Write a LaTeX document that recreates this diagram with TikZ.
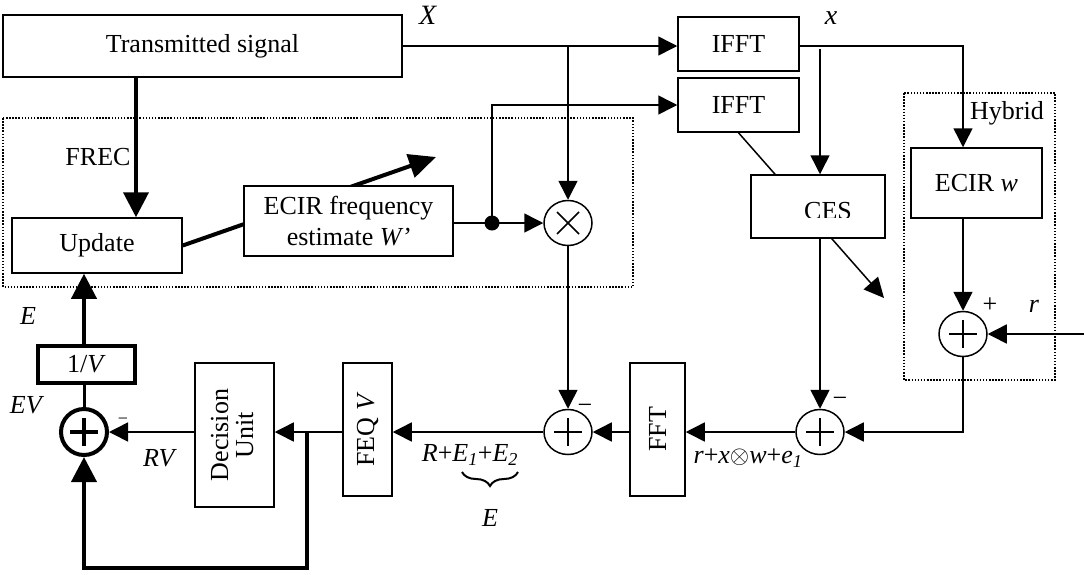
\documentclass[tikz,border=0pt]{standalone}
\usepackage{fontspec}
\setmainfont{Liberation Serif}
\usepackage{graphicx}
\usetikzlibrary{arrows.meta,shapes.geometric,backgrounds,decorations.pathreplacing}
\newcommand{\subit}[1]{\textsubscript{\textit{#1}}}
\begin{document}
\begin{tikzpicture}[x=1pt,y=-1pt,
  every node/.style={font=\fontsize{26}{31}\selectfont},
  box/.style={draw, line width=1.5pt, fill=white, inner sep=0pt, align=center},
  thickbox/.style={box, line width=4pt},
  sumnode/.style={ellipse, draw, line width=1.5pt, fill=white, minimum width=48pt, minimum height=45pt, inner sep=0pt},
  plussign/.style={path picture={
    \draw[line width=#1] ([xshift=-14pt]path picture bounding box.center) -- ([xshift=14pt]path picture bounding box.center)
      ([yshift=-14pt]path picture bounding box.center) -- ([yshift=14pt]path picture bounding box.center);}},
  timessign/.style={path picture={
    \draw[line width=1.5pt] ([shift={(-11pt,-11pt)}]path picture bounding box.center) -- ([shift={(11pt,11pt)}]path picture bounding box.center)
      ([shift={(-11pt,11pt)}]path picture bounding box.center) -- ([shift={(11pt,-11pt)}]path picture bounding box.center);}},
  conn/.style={line width=1.5pt},
  arr/.style={conn, -{Triangle[length=19pt,width=19pt]}},
  thk/.style={line width=4pt},
  bigarr/.style={thk, -{Triangle[length=25pt,width=25pt]}},
  lbl/.style={inner sep=0pt},
  biglbl/.style={inner sep=0pt, font=\fontsize{28}{32}\selectfont},
  dotbox/.style={line width=1.5pt, dash pattern=on 1.5pt off 1.6pt}
]
\useasboundingbox (0,0) rectangle (1084,574);

% dotted frames
\draw[dotbox] (3,118) rectangle (633,287);
\draw[dotbox] (904,93) rectangle (1055,380);

% blocks
\node[box, minimum width=399pt, minimum height=62pt] (ts) at (202.5,46) {Transmitted signal};
\node[box, minimum width=170pt, minimum height=55pt] (upd) at (97,245.5) {Update};
\node[box, minimum width=209pt, minimum height=70pt] (ecirf) at (348.5,221) {ECIR frequency\\estimate \textit{W'}};
\node[box, minimum width=121pt, minimum height=54pt] (ifft1) at (738.5,44) {IFFT};
\node[box, minimum width=121pt, minimum height=54pt] (ifft2) at (738.5,105) {IFFT};
\node[box, minimum width=134pt, minimum height=63pt] (ces) at (818,206.5) {};
\begin{scope}
  \clip (752,176) rectangle (884,217);
  \node[lbl, anchor=base] (cestxt) at (828,219.5) {CES};
\end{scope}
\node[box, minimum width=131pt, minimum height=70pt] (ecirw) at (976.5,183) {ECIR \textit{w}};
\node[box, minimum width=55pt, minimum height=133pt] (fft) at (657.5,429.5) {\rotatebox{90}{FFT}};
\node[box, minimum width=49pt, minimum height=133pt] (feq) at (367.5,429.5) {\rotatebox{90}{FEQ \textit{V}}};
\node[box, minimum width=79pt, minimum height=144pt] (dec) at (234.5,435) {\rotatebox{90}{\begin{tabular}{@{}c@{}}Decision\\[-6pt]Unit\end{tabular}}};
\node[thickbox, minimum width=97pt, minimum height=37pt] (inv) at (86.5,364.5) {1/\textit{V}};

% summing and multiplying junctions
\node[sumnode, timessign] (mult) at (568,223) {};
\node[sumnode, plussign=1.5pt] (add3) at (963,334) {};
\node[sumnode, plussign=1.5pt] (add2) at (820,432) {};
\node[sumnode, plussign=1.5pt] (add1) at (568,432) {};
\node[sumnode, plussign=4pt, line width=4pt, minimum width=46pt, minimum height=46pt] (add0) at (84,432) {};

% coordinates
\fill (492,223) circle (7.5pt);
\coordinate (dot) at (492,223);
\coordinate (fr) at (136,0);
\coordinate (xb) at (820,49);
\coordinate (rin) at (1084,334);
\coordinate (j) at (307,432);
\coordinate (lc) at (307,568);
\coordinate (tipA) at (436,157);
\coordinate (tipB) at (884,298);

% adaptive-estimate arrows (behind the boxes)
\begin{scope}[on background layer]
  \draw[thk, -{Triangle[length=27pt,width=24pt]}] (upd.east) -- (tipA);
  \draw[conn, -{Triangle[length=20pt,width=19pt]}] (ifft2.south) -- (tipB);
\end{scope}

% connectors
\draw[arr] (ts.east) -- (ts.east -| ifft1.west);
\draw[arr] (ts.east -| mult.north) -- (mult.north);
\draw[bigarr] (ts.south -| fr) -- (upd.north -| fr);
\draw[conn] (dot -| ecirf.east) -- (dot);
\draw[arr] (dot) -- (mult.west);
\draw[arr] (dot) |- (ifft2.west);
\draw[arr] (ts.east -| ifft1.east) -| (ecirw.north -| add3);
\draw[arr] (xb) -- (ces.north -| xb);
\draw[arr] (ces.south -| add2) -- (add2.north);
\draw[arr] (ecirw.south -| add3) -- (add3.north);
\draw[arr] (rin) -- (add3.east);
\draw[arr] (add3.south) |- (add2.east);
\draw[arr] (add2.west) -- (add2.west -| fft.east);
\draw[arr] (add1.east -| fft.west) -- (add1.east);
\draw[arr] (mult.south) -- (add1.north);
\draw[arr] (add1.west) -- (add1.west -| feq.east);
\draw[arr] (add1.west -| feq.west) -- (add1.west -| dec.east);
\draw[bigarr, line join=miter] (j) -- (lc) -| (add0.south);
\draw[arr] (add0.east -| dec.west) -- (add0.east);
\draw[line width=3pt] (add0.north) -- (inv.south -| add0);
\draw[bigarr] (inv.north -| add0) -- (upd.south -| add0);

% labels
\node[biglbl] (lX) at (428,15) {\textit{X}};
\node[biglbl] (lx) at (831,18) {\textit{x}};
\node[lbl] (lfrec) at (98,157) {FREC};
\node[lbl] (lhyb) at (1007,113) {Hybrid};
\node[lbl] (lplus) at (990,305) {+};
\node[lbl] (lr) at (1034,306) {\textit{r}};
\node[lbl] (lm2) at (840,402) {−};
\node[lbl] (lm1) at (585,409) {−};
\node[lbl, font=\fontsize{18}{20}\selectfont] (lm0) at (123,421) {−};
\node[lbl] (lE) at (28,316) {\textit{E}};
\node[lbl] (lEV) at (27,405) {\textit{EV}};
\node[lbl] (lRV) at (160,458) {\textit{RV}};
\node[lbl] (lsum) at (470,455) {\textit{R}+\textit{E}\subit{1}+\textit{E}\subit{2}};
\draw[line width=2pt, decorate, decoration={brace, amplitude=14pt}] (518,472) -- (462,472);
\node[lbl] (lE2) at (490,518) {\textit{E}};
\node[lbl] (lrx) at (748,458) {\textit{r}+\textit{x}$\otimes$\textit{w}+\textit{e}\subit{1}};
\end{tikzpicture}
\end{document}
